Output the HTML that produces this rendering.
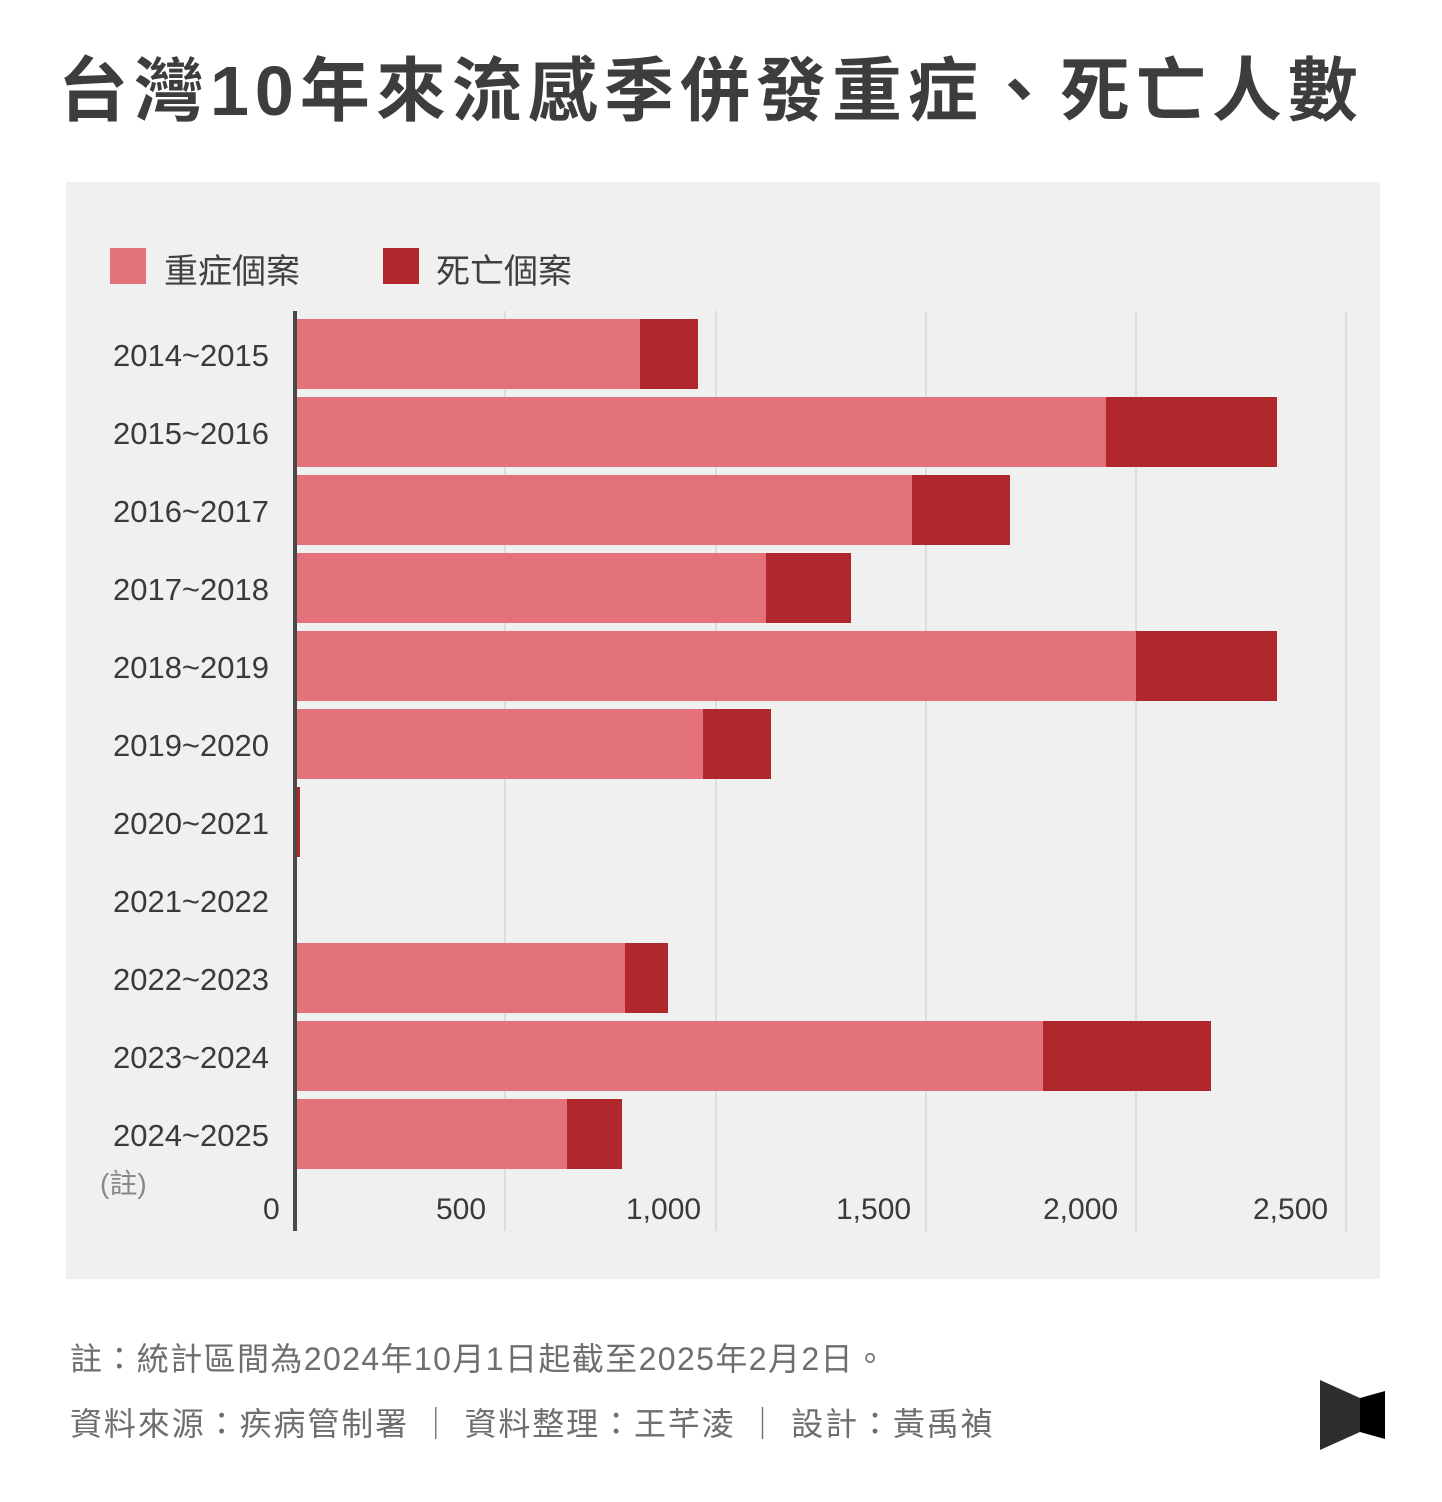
<!DOCTYPE html>
<html><head><meta charset="utf-8"><style>
body{margin:0;width:1442px;height:1502px;background:#fff;position:relative;font-family:"Liberation Sans","Noto Sans CJK TC",sans-serif;color:#404040;overflow:hidden}
.a{position:absolute}
.lab{position:absolute;right:1173px;font-size:31px;color:#3a3a3a;white-space:nowrap}
.b{position:absolute;height:70px}
.s{background:#e4727a}.d{background:#b0282c}
.g{position:absolute;top:311px;width:2px;height:920px;background:#dcdcdc}
.t{position:absolute;top:1193px;font-size:30px;color:#3a3a3a}
</style></head><body>
<div class="a" style="left:58px;top:35px;font-size:70px;font-weight:bold;color:#3d3d3d;letter-spacing:6px;white-space:nowrap">台灣10年來流感季併發重症、死亡人數</div>
<div class="a" style="left:66px;top:182px;width:1314px;height:1097px;background:#f0f0f0"></div>
<div class="a s" style="left:110px;top:248px;width:36px;height:36px"></div>
<div class="a" style="left:164px;top:244px;font-size:34px">重症個案</div>
<div class="a d" style="left:383px;top:248px;width:36px;height:36px"></div>
<div class="a" style="left:436px;top:244px;font-size:34px">死亡個案</div>
<div class="g" style="left:504px"></div><div class="g" style="left:715px"></div><div class="g" style="left:925px"></div><div class="g" style="left:1135px"></div><div class="g" style="left:1345px"></div>

<div class="b s" style="left:297px;top:319px;width:343px"></div><div class="b d" style="left:640px;top:319px;width:58px"></div>
<div class="b s" style="left:297px;top:397px;width:809px"></div><div class="b d" style="left:1106px;top:397px;width:171px"></div>
<div class="b s" style="left:297px;top:475px;width:615px"></div><div class="b d" style="left:912px;top:475px;width:98px"></div>
<div class="b s" style="left:297px;top:553px;width:469px"></div><div class="b d" style="left:766px;top:553px;width:85px"></div>
<div class="b s" style="left:297px;top:631px;width:839px"></div><div class="b d" style="left:1136px;top:631px;width:141px"></div>
<div class="b s" style="left:297px;top:709px;width:406px"></div><div class="b d" style="left:703px;top:709px;width:68px"></div>
<div class="b d" style="left:297px;top:787px;width:3px"></div>
<div class="b s" style="left:297px;top:943px;width:328px"></div><div class="b d" style="left:625px;top:943px;width:43px"></div>
<div class="b s" style="left:297px;top:1021px;width:746px"></div><div class="b d" style="left:1043px;top:1021px;width:168px"></div>
<div class="b s" style="left:297px;top:1099px;width:270px"></div><div class="b d" style="left:567px;top:1099px;width:55px"></div>
<div class="a" style="left:293px;top:311px;width:4px;height:920px;background:#4a4a4a"></div>

<div class="lab" style="top:338px">2014~2015</div>
<div class="lab" style="top:416px">2015~2016</div>
<div class="lab" style="top:494px">2016~2017</div>
<div class="lab" style="top:572px">2017~2018</div>
<div class="lab" style="top:650px">2018~2019</div>
<div class="lab" style="top:728px">2019~2020</div>
<div class="lab" style="top:806px">2020~2021</div>
<div class="lab" style="top:884px">2021~2022</div>
<div class="lab" style="top:962px">2022~2023</div>
<div class="lab" style="top:1040px">2023~2024</div>
<div class="lab" style="top:1118px">2024~2025</div>
<div class="a" style="left:100px;top:1162px;font-size:28px;color:#888">(註)</div>
<div class="t" style="left:263px">0</div>
<div class="t" style="left:436px">500</div>
<div class="t" style="left:626px">1,000</div>
<div class="t" style="left:836px">1,500</div>
<div class="t" style="left:1043px">2,000</div>
<div class="t" style="left:1253px">2,500</div>

<div class="a" style="left:70px;top:1334px;font-size:32px;letter-spacing:1.4px;color:#6e6e6e;white-space:nowrap">註：統計區間為2024年10月1日起截至2025年2月2日。</div>
<div class="a" style="left:70px;top:1399px;font-size:32px;letter-spacing:1.9px;color:#6e6e6e;white-space:nowrap">資料來源：疾病管制署 ｜ 資料整理：王芊淩 ｜ 設計：黃禹禎</div>
<svg class="a" style="left:1300px;top:1360px" width="120" height="110"><polygon points="20,20 60,38 60,72 20,90" fill="#2e2e2e"/><polygon points="60,38 85,31 85,79 60,72" fill="#000"/></svg>
</body></html>
